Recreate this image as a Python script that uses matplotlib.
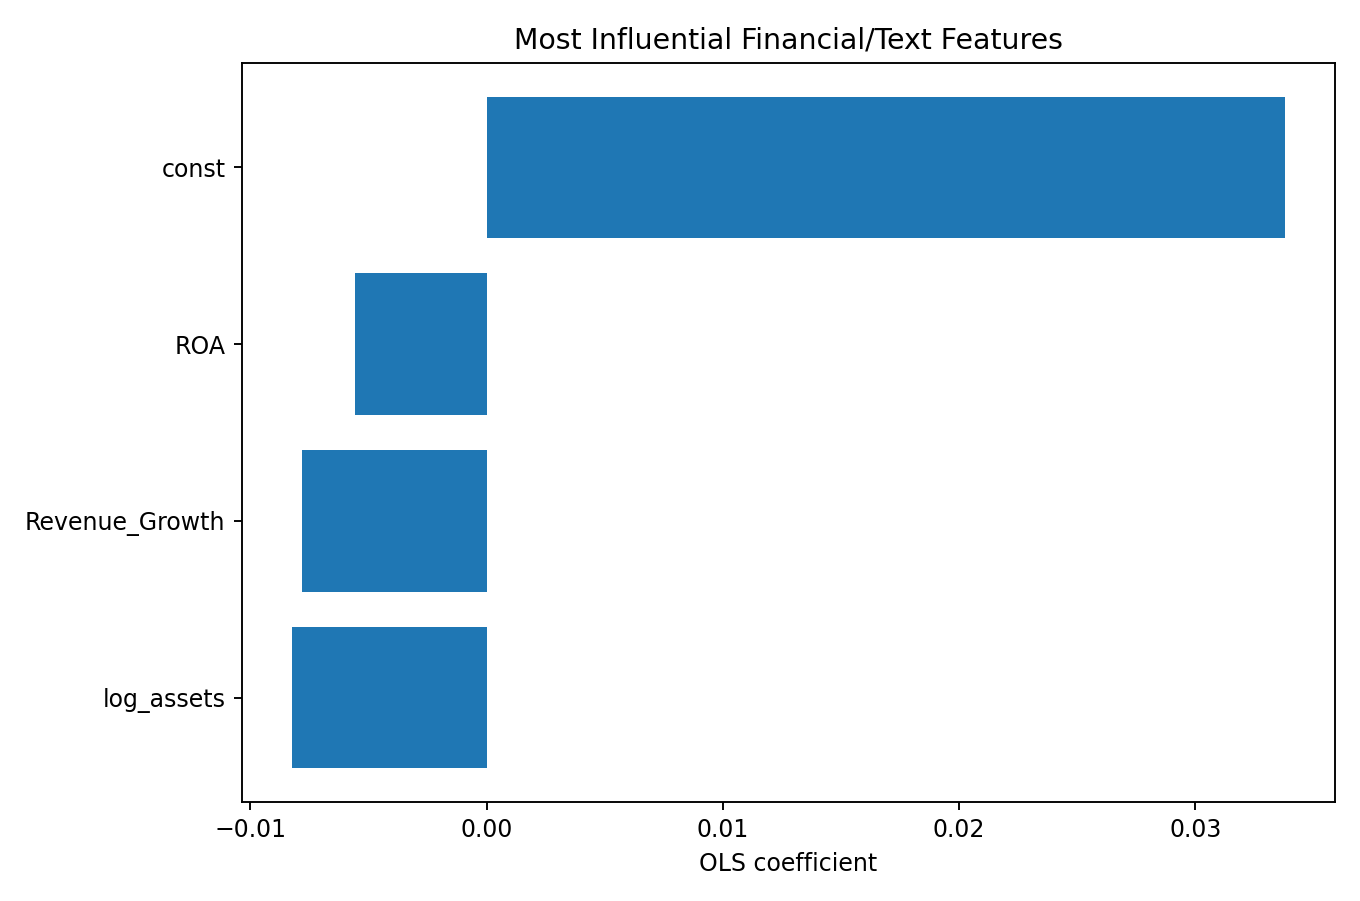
import matplotlib
matplotlib.use('Agg')
from matplotlib import pyplot as plt

# Features and OLS coefficients (bottom to top)
features = ['log_assets', 'Revenue_Growth', 'ROA', 'const']
coefs = [-0.00825, -0.00782, -0.00559, 0.03381]

fig, ax = plt.subplots(figsize=(8, 5.3), dpi=170)
ax.barh(features, coefs, color='#1f77b4')
ax.set_xlabel('OLS coefficient')
ax.set_title('Most Influential Financial/Text Features')
fig.subplots_adjust(left=0.178, right=0.9816, top=0.930, bottom=0.110)
fig.savefig('out.png', dpi=170)
